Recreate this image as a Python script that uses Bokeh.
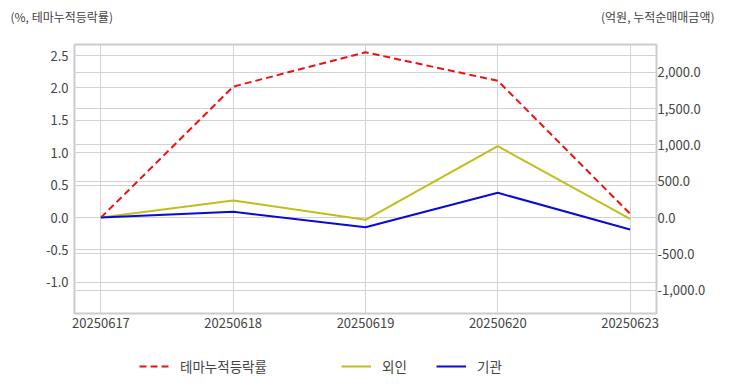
from bokeh.plotting import figure
from bokeh.layouts import column
from bokeh.models import (Range1d, LinearAxis, FixedTicker, NumeralTickFormatter, Grid,
                          Legend, LegendItem, Label)
from bokeh.embed import file_html
from bokeh.resources import INLINE

dates = ["20250617", "20250618", "20250619", "20250620", "20250623"]
theme_cum = [0.0, 2.02, 2.55, 2.11, 0.06]
foreign = [0.0, 234.0, -32.0, 983.0, -18.0]
institution = [0.0, 79.0, -134.0, 341.0, -166.0]
left_ticks = [2.5, 2.0, 1.5, 1.0, 0.5, 0.0, -0.5, -1.0]
right_ticks = [2000, 1500, 1000, 500, 0, -500, -1000]
series_names = ["테마누적등락률", "외인", "기관"]
colors = ["#ee1111", "#c0bf1a", "#0a0ad8"]

FONT = "Noto Sans CJK KR"
TXT = "#444444"
GRIDC = "#d2d2d2"
W = 716

xs = list(range(len(dates)))


def blank(h):
    f = figure(width=W, height=h, output_backend="svg", toolbar_location=None,
               x_axis_type=None, y_axis_type=None,
               x_range=Range1d(0, 1), y_range=Range1d(0, 1),
               min_border=0, min_border_left=0, min_border_right=0,
               min_border_top=0, min_border_bottom=0)
    f.frame_align = False
    f.outline_line_color = None
    f.grid.visible = False
    return f


# header
head = blank(30)
head.add_layout(Label(x=10, y=14, x_units="screen", y_units="screen",
                      text="(%, 테마누적등락률)", text_font=FONT, text_font_size="12px",
                      text_color=TXT, text_baseline="middle", text_align="left"))
head.add_layout(Label(x=W - 2, y=14, x_units="screen", y_units="screen",
                      text="(억원, 누적순매매금액)", text_font=FONT, text_font_size="12px",
                      text_color=TXT, text_baseline="middle", text_align="right"))

# main chart
p = figure(width=W, height=306, output_backend="svg", toolbar_location=None,
           x_range=Range1d(-0.2, len(dates) - 1 + 0.2),
           y_range=Range1d(-1.48, 2.67),
           min_border_left=74, min_border_right=W - 656, min_border_top=14, min_border_bottom=23)
p.frame_align = False
p.extra_y_ranges = {"right": Range1d(-1324, 2386)}

p.outline_line_color = "#cccccc"
p.outline_line_width = 2

p.xaxis.ticker = FixedTicker(ticks=xs)
p.xaxis.major_label_overrides = {i: d for i, d in zip(xs, dates)}
p.yaxis.ticker = FixedTicker(ticks=left_ticks)
p.yaxis.formatter = NumeralTickFormatter(format="0.0")

raxis = LinearAxis(y_range_name="right", ticker=FixedTicker(ticks=right_ticks),
                   formatter=NumeralTickFormatter(format="0,0.0"))
p.add_layout(raxis, "right")

for ax in [p.xaxis[0], p.yaxis[0], raxis]:
    ax.axis_line_color = None
    ax.major_tick_line_color = None
    ax.minor_tick_line_color = None
    ax.major_tick_out = 0
    ax.major_tick_in = 0
    ax.minor_tick_out = 0
    ax.major_label_text_font = FONT
    ax.major_label_text_font_size = "13px"
    ax.major_label_text_color = TXT
p.yaxis[0].major_label_standoff = 6
raxis.major_label_standoff = 1
p.xaxis[0].major_label_standoff = 4

p.xgrid.grid_line_color = GRIDC
p.ygrid.grid_line_color = GRIDC
rgrid = Grid(dimension=1, axis=raxis, ticker=raxis.ticker, y_range_name="right",
             grid_line_color=GRIDC)
p.add_layout(rgrid)

p.line(xs, theme_cum, line_color=colors[0], line_width=2, line_dash="7 4")
p.line(xs, foreign, line_color=colors[1], line_width=2, y_range_name="right")
p.line(xs, institution, line_color=colors[2], line_width=2, y_range_name="right")

# legend strip (hidden copies of the series give the legend its glyphs)
leg = blank(40)
dashes = ["7 4", "solid", "solid"]
for name, col, dash, vals, xloc in zip(series_names, colors, dashes,
                                       [theme_cum, foreign, institution], [139, 341, 436]):
    r = leg.line(xs, vals, line_color=col, line_width=2, line_dash=dash, visible=False)
    lg = Legend(items=[LegendItem(label=name, renderers=[r])], location=(xloc, 0),
                padding=0, margin=0, border_line_color=None, background_fill_alpha=0,
                inactive_fill_alpha=0, click_policy="none",
                glyph_width=30, glyph_height=14, label_height=14, label_standoff=11,
                label_text_font=FONT, label_text_font_size="13.5px", label_text_color=TXT)
    leg.add_layout(lg, "center")

layout = column(head, p, leg, spacing=0)
open("out.html", "w").write(file_html(layout, INLINE))
